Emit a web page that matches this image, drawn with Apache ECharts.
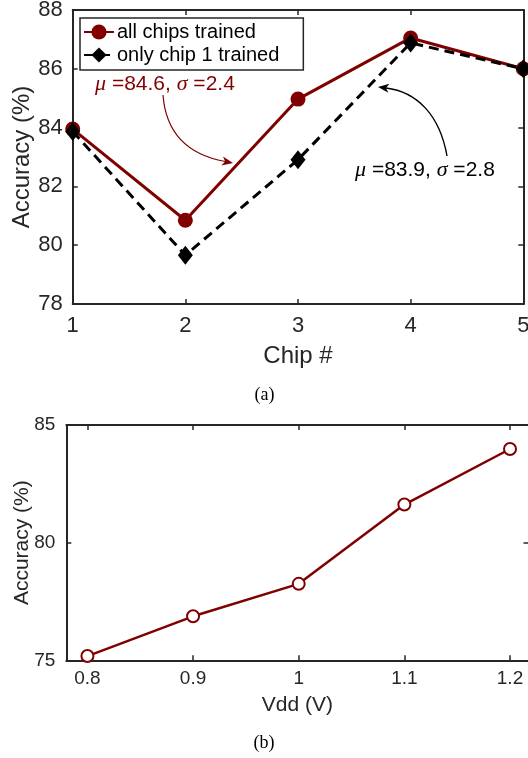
<!DOCTYPE html>
<html>
<head>
<meta charset="utf-8">
<script src="https://cdn.jsdelivr.net/npm/echarts@6/dist/echarts.min.js"></script>
<style>
html,body{margin:0;padding:0;background:#fff;}
#chart{width:528px;height:758px;}
</style>
</head>
<body>
<div id="chart"></div>
<script>
// ---- data ----
const chips = [1, 2, 3, 4, 5];
const allChipsTrained = [83.95, 80.85, 84.97, 87.05, 86.0];
const onlyChip1Trained = [83.87, 79.66, 82.91, 86.88, 86.0];
const chipTicks = [1, 2, 3, 4, 5];
const accTicksA = [78, 80, 82, 84, 86, 88];

const vdd = [0.8, 0.9, 1.0, 1.1, 1.2];
const vddAccuracy = [75.18, 76.87, 78.25, 81.62, 83.98];
const vddTicks = [0.8, 0.9, 1, 1.1, 1.2];
const accTicksB = [75, 80, 85];

const seriesNames = ['all chips trained', 'only chip 1 trained'];
const annotationTexts = ['{i|\u03bc} =84.6, {i|\u03c3} =2.4', '{i|\u03bc} =83.9, {i|\u03c3} =2.8'];
// annotation anchors in data coordinates of chart (a)
const annoTextPos = [[1.198, 85.48], [3.506, 82.54]];
const redArrowPath = [[1.8016, 85.109], [1.8282, 83.748], [2.0413, 83.068], [2.4230, 82.796]];
const blackArrowPath = [[4.3227, 83.034], [4.2579, 84.439], [4.0537, 85.221], [3.7102, 85.381]];

// ---- styles ----
const AX = '#262626';
const RED = '#800000';
const SANS = 'Liberation Sans, Arial, Helvetica, sans-serif';
const SERIF = 'Liberation Serif, Times New Roman, serif';

function pairs(xs, ys) { return xs.map((x, i) => [x, ys[i]]); }

const chart = echarts.init(document.getElementById('chart'), null, {renderer: 'canvas'});

function axisBase(extra) {
  return Object.assign({
    type: 'value',
    nameMoveOverlap: false,
    axisLine: {show: true, onZero: false, lineStyle: {color: AX, width: 2}},
    axisTick: {show: true, inside: true, length: 5, lineStyle: {color: AX, width: 1.5}},
    splitLine: {show: false},
    nameTextStyle: {color: AX, fontFamily: SANS}
  }, extra);
}

const option = {
  animation: false,
  backgroundColor: '#fff',
  grid: [
    {left: 72.7, top: 10, width: 450.6, height: 294, outerBoundsMode: 'none'},
    {left: 66.3, top: 425, width: 462.2, height: 235.3, outerBoundsMode: 'none'}
  ],
  legend: {
    data: seriesNames,
    left: 80, top: 18,
    orient: 'vertical',
    itemWidth: 30, itemHeight: 19, itemGap: 3,
    padding: [4, 24, 5, 3],
    backgroundColor: '#fff',
    borderColor: AX, borderWidth: 1.5, borderRadius: 0,
    textStyle: {fontSize: 20, fontFamily: SANS, color: '#000', padding: [0, 0, 0, -2]}
  },
  xAxis: [
    axisBase({gridIndex: 0, position: 'bottom', min: 1, max: 5, interval: 1,
      axisLabel: {margin: 11, fontSize: 22, color: AX, fontFamily: SANS},
      name: 'Chip #', nameLocation: 'middle', nameGap: 40,
      nameTextStyle: {color: AX, fontFamily: SANS, fontSize: 24}}),
    axisBase({gridIndex: 0, position: 'top', min: 1, max: 5, interval: 1, axisLabel: {show: false}}),
    axisBase({gridIndex: 1, position: 'bottom', min: 0.78, max: 1.2175,
      axisLabel: {margin: 9, fontSize: 19, color: AX, fontFamily: SANS, customValues: vddTicks},
      axisTick: {show: true, inside: true, length: 5, lineStyle: {color: AX, width: 1.5}, customValues: vddTicks},
      name: 'Vdd (V)', nameLocation: 'middle', nameGap: 34,
      nameTextStyle: {color: AX, fontFamily: SANS, fontSize: 21}}),
    axisBase({gridIndex: 1, position: 'top', min: 0.78, max: 1.2175,
      axisLabel: {show: false, customValues: vddTicks},
      axisTick: {show: true, inside: true, length: 5, lineStyle: {color: AX, width: 1.5}, customValues: vddTicks}})
  ],
  yAxis: [
    axisBase({gridIndex: 0, position: 'left', min: 78, max: 88, interval: 2,
      axisLabel: {margin: 10, fontSize: 22, color: AX, fontFamily: SANS},
      name: 'Accuracy (%)', nameLocation: 'middle', nameGap: 38,
      nameTextStyle: {color: AX, fontFamily: SANS, fontSize: 24}}),
    axisBase({gridIndex: 0, position: 'right', min: 78, max: 88, interval: 2, axisLabel: {show: false}}),
    axisBase({gridIndex: 1, position: 'left', min: 75, max: 85, interval: 5,
      axisLabel: {margin: 11, fontSize: 19, color: AX, fontFamily: SANS},
      name: 'Accuracy (%)', nameLocation: 'middle', nameGap: 34,
      nameTextStyle: {color: AX, fontFamily: SANS, fontSize: 21}}),
    axisBase({gridIndex: 1, position: 'right', min: 75, max: 85, interval: 5, axisLabel: {show: false}})
  ],
  series: [
    {
      name: seriesNames[0], type: 'line', xAxisIndex: 0, yAxisIndex: 0,
      data: pairs(chips, allChipsTrained), clip: false,
      symbol: 'circle', symbolSize: 15,
      lineStyle: {color: RED, width: 3},
      itemStyle: {color: RED}
    },
    {
      name: seriesNames[1], type: 'line', xAxisIndex: 0, yAxisIndex: 0,
      data: pairs(chips, onlyChip1Trained), clip: false,
      symbol: 'diamond', symbolSize: [15, 19],
      lineStyle: {color: '#000', width: 3, type: [10, 6]},
      itemStyle: {color: '#000'}
    },
    {
      name: 'vdd', type: 'line', xAxisIndex: 2, yAxisIndex: 2,
      data: pairs(vdd, vddAccuracy), clip: false,
      symbol: 'emptyCircle', symbolSize: 12,
      lineStyle: {color: RED, width: 2.5},
      itemStyle: {color: RED, borderWidth: 2.5}
    }
  ]
};
chart.setOption(option);

function px(p) { return chart.convertToPixel({gridIndex: 0}, p); }

function arrow(pathData, color, lw) {
  const p = pathData.map(px);
  const tip = p[3], c2 = p[2];
  let dx = tip[0] - c2[0], dy = tip[1] - c2[1];
  const L = Math.hypot(dx, dy); dx /= L; dy /= L;
  const len = 11, hw = 4.5, notch = 8;
  const bx = tip[0] - dx * len, by = tip[1] - dy * len;
  const nx = -dy, ny = dx;
  const back = [tip[0] - dx * notch, tip[1] - dy * notch];
  return [
    {type: 'bezierCurve', silent: true, z: 100,
      shape: {x1: p[0][0], y1: p[0][1], cpx1: p[1][0], cpy1: p[1][1], cpx2: p[2][0], cpy2: p[2][1], x2: back[0], y2: back[1]},
      style: {stroke: color, lineWidth: lw, fill: null}},
    {type: 'polygon', silent: true, z: 101,
      shape: {points: [tip, [bx + nx * hw, by + ny * hw], back, [bx - nx * hw, by - ny * hw]]},
      style: {fill: color}}
  ];
}

function annoText(txt, pos, color) {
  const p = px(pos);
  return {type: 'text', x: p[0], y: p[1], z: 102, silent: true,
    style: {text: txt, fill: color, fontSize: 21, fontFamily: SANS, align: 'left', verticalAlign: 'middle',
      rich: {i: {fontFamily: SERIF, fontStyle: 'italic', fontSize: 22, fill: color}}}};
}

const graphics = [].concat(
  arrow(redArrowPath, RED, 1.2),
  arrow(blackArrowPath, '#000', 1.4),
  [annoText(annotationTexts[0], annoTextPos[0], RED),
   annoText(annotationTexts[1], annoTextPos[1], '#000'),
   {type: 'text', x: 264.5, y: 395, silent: true,
    style: {text: '(a)', fill: '#000', fontSize: 18, fontFamily: SERIF, align: 'center', verticalAlign: 'middle'}},
   {type: 'text', x: 264, y: 743, silent: true,
    style: {text: '(b)', fill: '#000', fontSize: 18, fontFamily: SERIF, align: 'center', verticalAlign: 'middle'}}]
);
chart.setOption({graphic: graphics});
</script>
</body>
</html>
